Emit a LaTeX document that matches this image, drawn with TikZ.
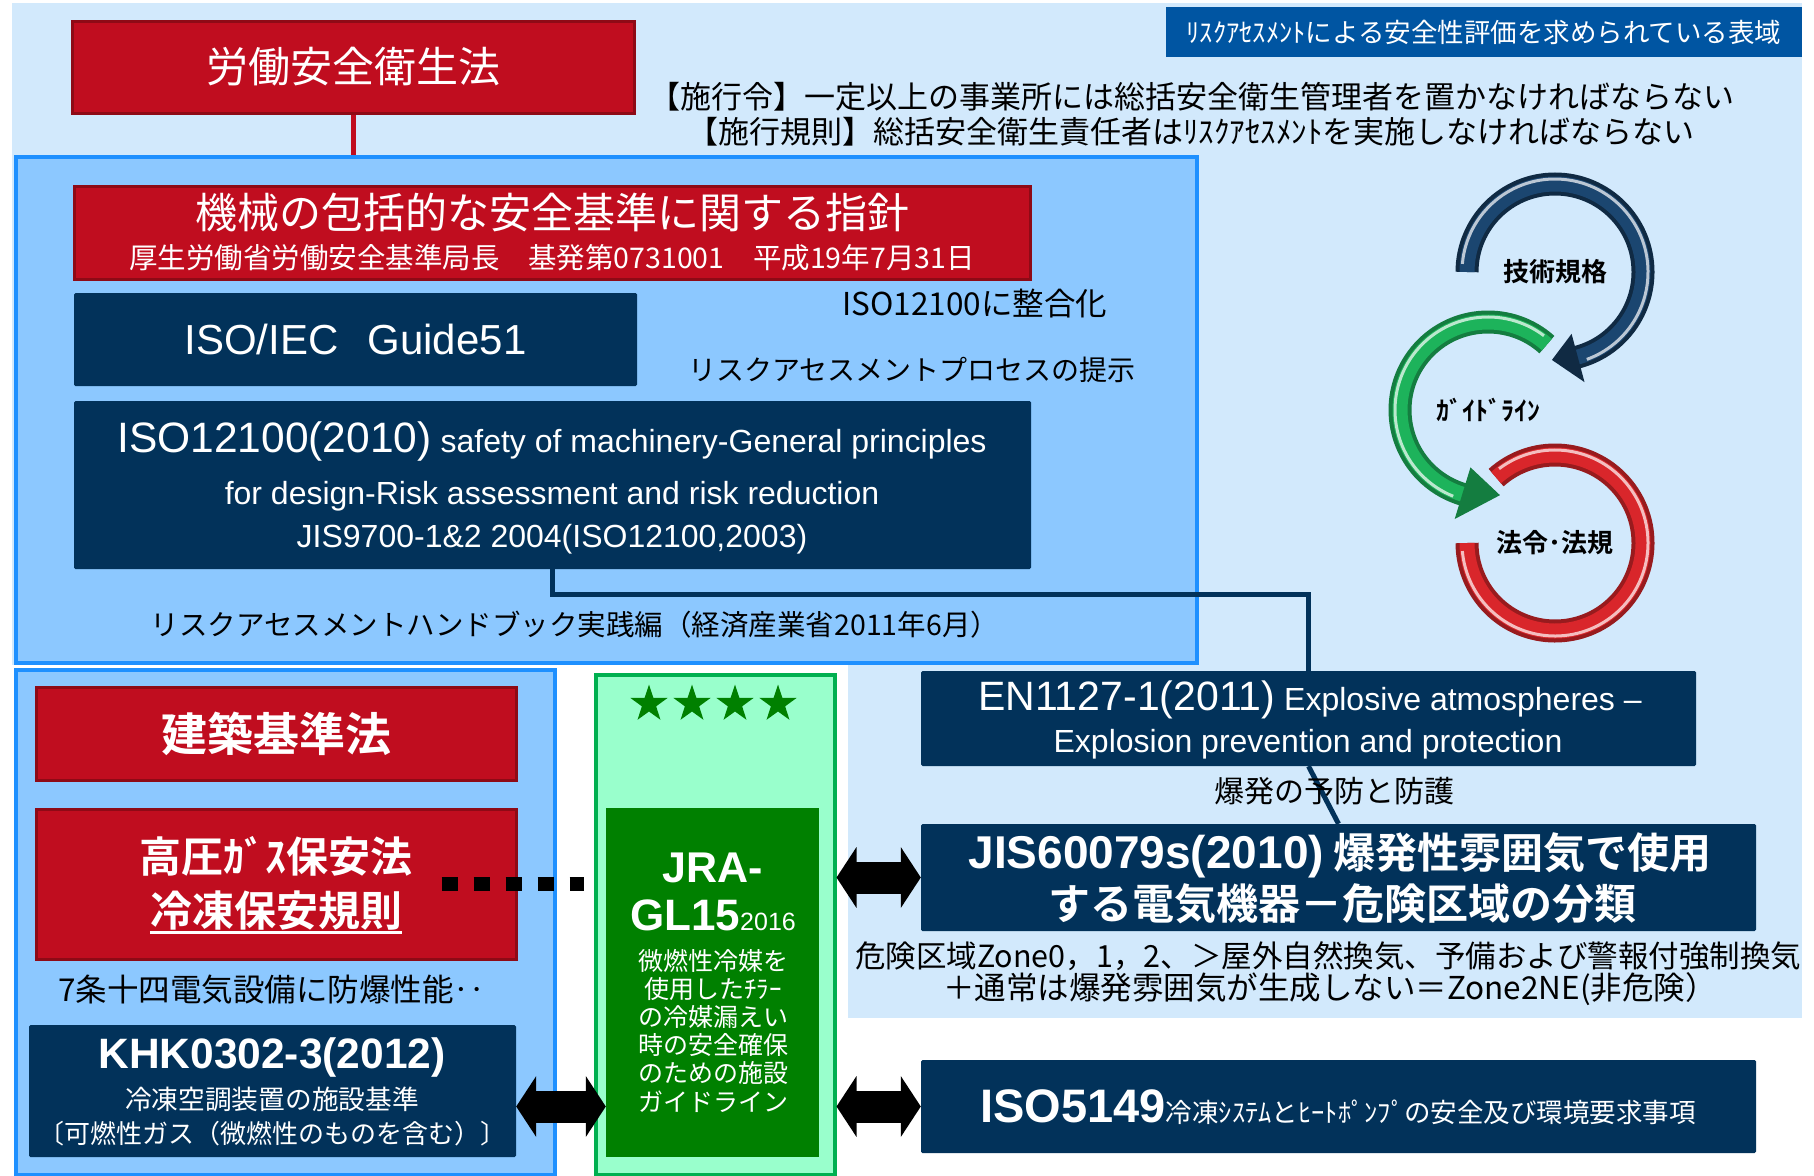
\documentclass[tikz,border=0pt]{standalone}
\usepackage{fontspec}
\setmainfont{Noto Sans CJK JP}[BoldFont={Noto Sans CJK JP Bold}]
\newfontfamily\lat{Liberation Sans}
\usetikzlibrary{calc,arrows.meta,shapes.geometric}

\newcommand\fsz[1]{\fontsize{#1}{#1}\selectfont}

\definecolor{bgblue}{HTML}{D2E9FC}
\definecolor{skyfill}{HTML}{8CC8FF}
\definecolor{skyline}{HTML}{1E90FF}
\definecolor{lawred}{HTML}{C00D1F}
\definecolor{lawedge}{HTML}{8E0A16}
\definecolor{navy}{HTML}{02325A}
\definecolor{tagblue}{HTML}{0055A2}
\definecolor{mint}{HTML}{99FFCC}
\definecolor{mintedge}{HTML}{00B050}
\definecolor{jragreen}{HTML}{008000}
\definecolor{arcblue}{HTML}{1B4670}
\definecolor{arcgreen}{HTML}{1DB35B}
\definecolor{arcred}{HTML}{D9262B}

\begin{document}
\begin{tikzpicture}[x=1pt,y=-1pt,
    area/.style={draw=skyline, fill=skyfill, line width=3.5pt, anchor=north west, inner sep=0pt},
    lawbox/.style={draw=lawedge, fill=lawred, line width=3pt, inner sep=0pt},
    stdbox/.style={fill=navy, rounded corners=1.5pt, inner sep=0pt},
    txt/.style={inner sep=0pt, align=center},
    wtxt/.style={txt, text=white},
    link/.style={draw=navy, line width=5pt},
    dotlink/.style={line width=14pt, dash pattern=on 16pt off 16pt},
    fatarrow/.style={line width=32pt, {Triangle[length=20pt,width=60pt]}-{Triangle[length=20pt,width=60pt]}},
  ]
  \useasboundingbox (0,0) rectangle (1814,1175);

  % background
  \fill[bgblue] (12,3) rectangle (1802,665);
  \fill[bgblue] (848,665) rectangle (1802,1018);

  % law title
  \node[lawbox, minimum width=562pt, minimum height=92pt, text=white, font=\fsz{42}] (rodo) at (353,67) {労働安全衛生法};
  \node[fill=tagblue, minimum width=636pt, minimum height=50pt, inner sep=0pt, text=white, font=\fsz{26.5}] (tag) at (1484,32) {ﾘｽｸｱｾｽﾒﾝﾄによる安全性評価を求められている表域};
  \node[txt, font=\fsz{31}] (sekorei) at (1192,97) {【施行令】一定以上の事業所には総括安全衛生管理者を置かなければならない};
  \node[txt, font=\fsz{31}] (sekokisoku) at (1191,132) {【施行規則】総括安全衛生責任者はﾘｽｸｱｾｽﾒﾝﾄを実施しなければならない};

  % upper area
  \draw[lawred, line width=5pt] (rodo.south) -- ++(0,42);
  \node[area, minimum width=1181pt, minimum height=506pt] (upper) at (14,155) {};

  \node[lawbox, minimum width=956pt, minimum height=93pt] (shishin) at (552,232.5) {};
  \node[wtxt, font=\fsz{42}] (shishin-t) at (552,212) {機械の包括的な安全基準に関する指針};
  \node[wtxt, font=\fsz{28.5}] (shishin-s) at (552,258) {厚生労働省労働安全基準局長\hspace{1em}基発第0731001\hspace{1em}平成19年7月31日};

  \node[stdbox, minimum width=563pt, minimum height=93pt, text=white, font=\lat\fsz{42}] (guide) at (355.5,339.5) {ISO/IEC\hspace{29pt}Guide51};
  \node[txt, font=\fsz{31.5}] (seigo) at (975,304) {ISO12100に整合化};
  \node[txt, font=\fsz{28}] (teiji) at (912,370) {リスクアセスメントプロセスの提示};

  \node[stdbox, minimum width=957pt, minimum height=168pt] (iso) at (552.5,485) {};
  \node[wtxt, font=\lat\fsz{32}, anchor=base] (iso-a) at (552,452) {{\fsz{42.5}ISO12100(2010)} safety of machinery-General principles};
  \node[wtxt, font=\lat\fsz{32}] (iso-b) at (552,496) {for design-Risk assessment and risk reduction};
  \node[wtxt, font=\lat\fsz{32}] (iso-c) at (552,539) {JIS9700-1\&2 2004(ISO12100,2003)};

  \node[txt, font=\fsz{28.5}] (handbook) at (575,625) {リスクアセスメントハンドブック実践編（経済産業省2011年6月）};

  % lower left area
  \node[area, minimum width=539pt, minimum height=505pt] (lower) at (14,668) {};
  \node[lawbox, minimum width=480pt, minimum height=93pt, text=white, font=\bfseries\fsz{46}] (kenchiku) at (276,733.5) {建築基準法};
  \node[lawbox, minimum width=480pt, minimum height=150pt] (kouatsu) at (276,884) {};
  \node[wtxt, font=\bfseries\fsz{42}] (kouatsu-t) at (276,856) {高圧ｶﾞｽ保安法};
  \node[wtxt, font=\bfseries\fsz{42}] (reito-t) at (276,911) {冷凍保安規則};
  \draw[white, line width=3pt] ([yshift=-6pt]reito-t.base west) -- ([yshift=-6pt]reito-t.base east);
  \node[txt, font=\fsz{31.5}] (boubaku) at (272,990) {7条十四電気設備に防爆性能‥};

  \node[stdbox, minimum width=487pt, minimum height=132pt] (khk) at (272.5,1091) {};
  \node[wtxt, font=\lat\bfseries\fsz{42.5}] (khk-t) at (272,1057) {KHK0302-3(2012)};
  \node[wtxt, font=\fsz{26.7}] (khk-s) at (272,1099) {冷凍空調装置の施設基準};
  \node[wtxt, font=\fsz{26}] (khk-n) at (272,1134) {〔可燃性ガス（微燃性のものを含む）〕};

  % JRA guideline
  \node[draw=mintedge, fill=mint, line width=3.5pt, minimum width=239pt, minimum height=500pt, anchor=north west, inner sep=0pt] (jraframe) at (594,673) {};
  \foreach \i in {0,...,3}
    \node[star, star points=5, star point ratio=2.6, fill=jragreen, minimum size=39pt, inner sep=0pt] (star\i) at (649+43*\i,704) {};
  \node[fill=jragreen, minimum width=213pt, minimum height=349pt, inner sep=0pt] (jra) at (712.5,982.5) {};
  \node[wtxt, font=\lat\bfseries\fsz{43}] (jra-a) at (713,868) {JRA-};
  \node[wtxt, font=\lat\bfseries\fsz{44}, anchor=base] (jra-b) at (713,930) {GL15{\mdseries\fsz{25}2016}};
  \node[wtxt, font=\fontsize{25}{28.2}\selectfont] (jra-c) at (713,1030.5) {微燃性冷媒を\\使用したﾁﾗｰ\\の冷媒漏えい\\時の安全確保\\のための施設\\ガイドライン};

  % right column
  \node[stdbox, minimum width=775pt, minimum height=95pt] (en) at (1308.5,718.5) {};
  \node[wtxt, font=\lat\fsz{32}, anchor=base] (en-a) at (1310,710) {{\fsz{41}EN1127-1(2011)} Explosive atmospheres –};
  \node[wtxt, font=\lat\fsz{32}] (en-b) at (1308,744) {Explosion prevention and protection};

  \node[stdbox, minimum width=835pt, minimum height=107pt] (jis) at (1338.5,877.5) {};
  \node[wtxt, font=\bfseries\fsz{42}, anchor=base] (jis-a) at (1340,868) {{\lat\fsz{46}JIS60079s(2010)} 爆発性雰囲気で使用};
  \node[wtxt, font=\bfseries\fsz{42}] (jis-b) at (1342,904) {する電気機器－危険区域の分類};
  \node[txt, font=\fsz{30.5}] (kiken-a) at (1328,956) {危険区域Zone0，1，2、＞屋外自然換気、予備および警報付強制換気};
  \node[txt, font=\fsz{31.5}] (kiken-b) at (1330,989) {＋通常は爆発雰囲気が生成しない＝Zone2NE(非危険）};

  \node[stdbox, minimum width=835pt, minimum height=93pt] (iso5149) at (1338.5,1106.5) {};
  \node[wtxt, anchor=base] (iso5149-t) at (1338,1122) {{\lat\bfseries\fsz{47}ISO5149}{\fsz{26.5}冷凍ｼｽﾃﾑとﾋｰﾄﾎﾟﾝﾌﾟの安全及び環境要求事項}};

  % connectors
  \draw[link] (iso.south) -- ++(0,25) -| (en.north);
  \draw[link] (en.south) -- (jis.north);
  \node[txt, font=\fsz{30}] (yobo) at (1334,791) {爆発の予防と防護};
  \draw[dotlink, shorten <=-76pt, shorten >=10pt] (kouatsu.east) -- (jraframe.west |- kouatsu.east);
  \draw[fatarrow] (khk.east |- iso5149.west) -- (jra.west |- iso5149.west);
  \draw[fatarrow] (jraframe.east |- jis.west) -- (jis.west);
  \draw[fatarrow] (jraframe.east |- iso5149.west) -- (iso5149.west);

  % cycle of standards
  \coordinate (gijutsu) at (1555,272);
  \coordinate (guideline) at (1488,410);
  \coordinate (hourei) at (1555,543);

  % blue
  \draw[arcblue!60!black, line width=23pt] ($(gijutsu)+(180:88pt)$) arc[start angle=180, end angle=-76, radius=88pt];
  \draw[arcblue, line width=15pt] ($(gijutsu)+(180:88pt)$) arc[start angle=180, end angle=-76, radius=88pt];
  \draw[arcblue!30!white, line width=3pt] ($(gijutsu)+(175:93pt)$) arc[start angle=175, end angle=-70, radius=93pt];
  \fill[arcblue!60!black] ($(gijutsu)+(-75:64pt)$) -- ($(gijutsu)+(-75:114pt)$) -- ($(gijutsu)+(-92:88pt)$) -- cycle;

  % green
  \draw[arcgreen!70!black, line width=23pt] ($(guideline)+(48:88pt)$) arc[start angle=48, end angle=254, radius=88pt];
  \draw[arcgreen, line width=15pt] ($(guideline)+(48:88pt)$) arc[start angle=48, end angle=254, radius=88pt];
  \draw[arcgreen!30!white, line width=3pt] ($(guideline)+(53:93pt)$) arc[start angle=53, end angle=248, radius=93pt];
  \fill[arcgreen!70!black] ($(guideline)+(253:60pt)$) -- ($(guideline)+(253:114pt)$) -- ($(guideline)+(278:86pt)$) -- cycle;

  % red
  \draw[arcred!70!black, line width=23pt] ($(hourei)+(132:88pt)$) arc[start angle=132, end angle=-180, radius=88pt];
  \draw[arcred, line width=15pt] ($(hourei)+(132:88pt)$) arc[start angle=132, end angle=-180, radius=88pt];
  \draw[arcred!30!white, line width=3pt] ($(hourei)+(127:93pt)$) arc[start angle=127, end angle=-175, radius=93pt];

  \node[txt, font=\bfseries\fsz{26}] (gijutsu-t) at (gijutsu) {技術規格};
  \node[txt, font=\bfseries\fsz{26}] (guideline-t) at (guideline) {ｶﾞｲﾄﾞﾗｲﾝ};
  \node[txt, font=\bfseries\fsz{26}] (hourei-t) at (hourei) {法令･法規};

\end{tikzpicture}
\end{document}
